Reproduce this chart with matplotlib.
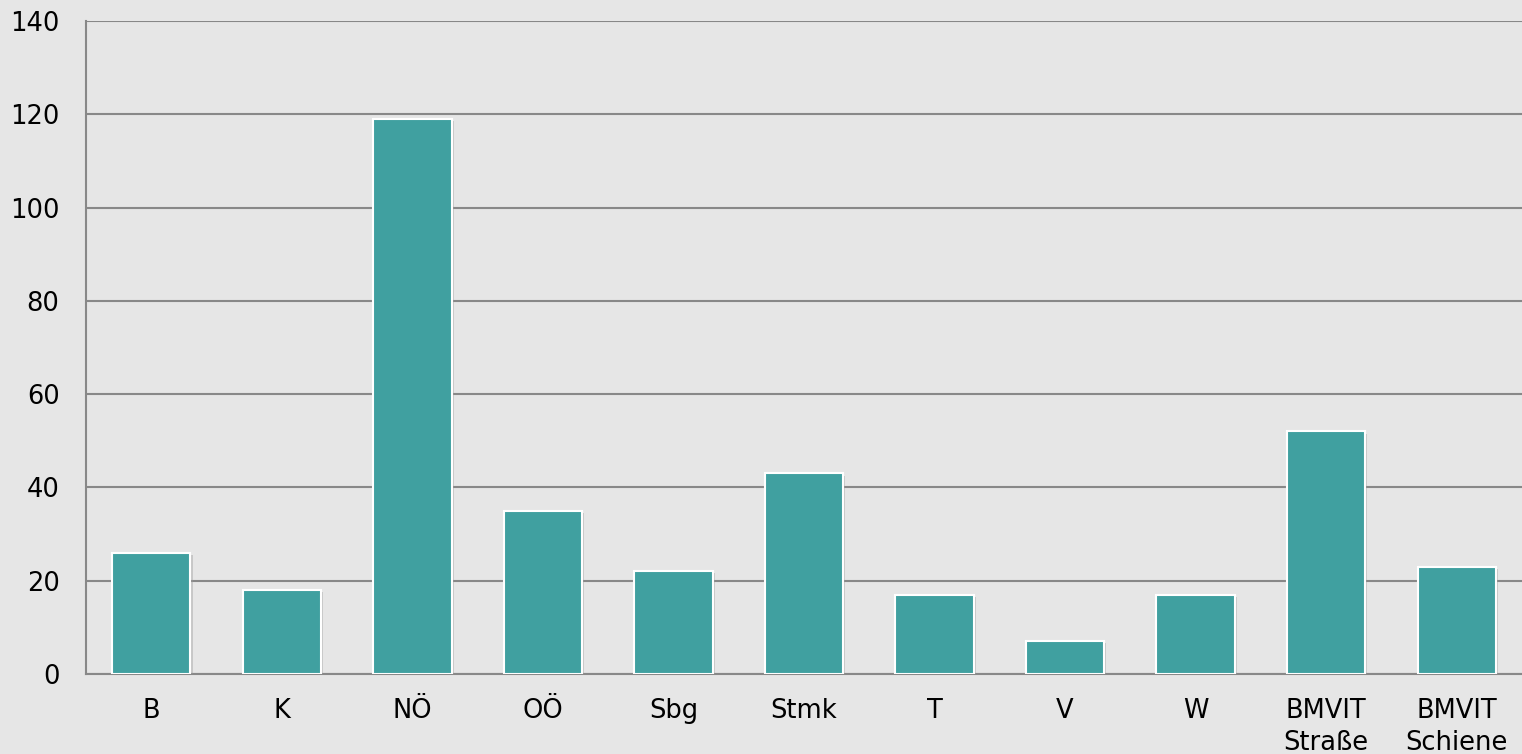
import matplotlib
matplotlib.use("Agg")
import matplotlib.pyplot as plt
import matplotlib.patheffects as pe

plt.rcParams["font.family"] = ["DejaVu Sans"]

categories = ["B", "K", "NÖ", "OÖ", "Sbg", "Stmk", "T", "V", "W", "BMVIT\nStraße", "BMVIT\nSchiene"]
values = [26, 18, 119, 35, 22, 43, 17, 7, 17, 52, 23]
yticks = [0, 20, 40, 60, 80, 100, 120, 140]

bg = "#e6e6e6"
fig = plt.figure(figsize=(15.22, 7.54), dpi=100, facecolor=bg)
ax = fig.add_axes([86/1522, 80/754, 1 - 86/1522, (674-21)/754])
ax.set_facecolor(bg)

x = list(range(len(categories)))
bars = ax.bar(x, values, width=0.6, color="#40a0a0", edgecolor="white", linewidth=1.5, zorder=3)
for b in bars:
    b.set_path_effects([pe.SimplePatchShadow(offset=(1.5, -1.5), shadow_rgbFace="#999999", alpha=0.4), pe.Normal()])

ax.set_xlim(-0.5, len(categories) - 0.5)
ax.set_ylim(0, 140)
ax.set_yticks(yticks)
ax.set_xticks(x)
ax.set_xticklabels(categories, linespacing=1.3)
ax.grid(axis="y", color="#888888", linewidth=1.5, zorder=1)
ax.set_axisbelow(True)
for s in ["right", "top"]:
    ax.spines[s].set_visible(False)
ax.spines["left"].set_color("#888888")
ax.spines["left"].set_linewidth(1.5)
ax.spines["bottom"].set_color("#888888")
ax.spines["bottom"].set_linewidth(1.5)
ax.tick_params(axis="both", length=0, labelsize=18.5, labelcolor="black")
ax.tick_params(axis="y", pad=19)
ax.tick_params(axis="x", pad=17)

fig.savefig("out.png", dpi=100, facecolor=bg)
